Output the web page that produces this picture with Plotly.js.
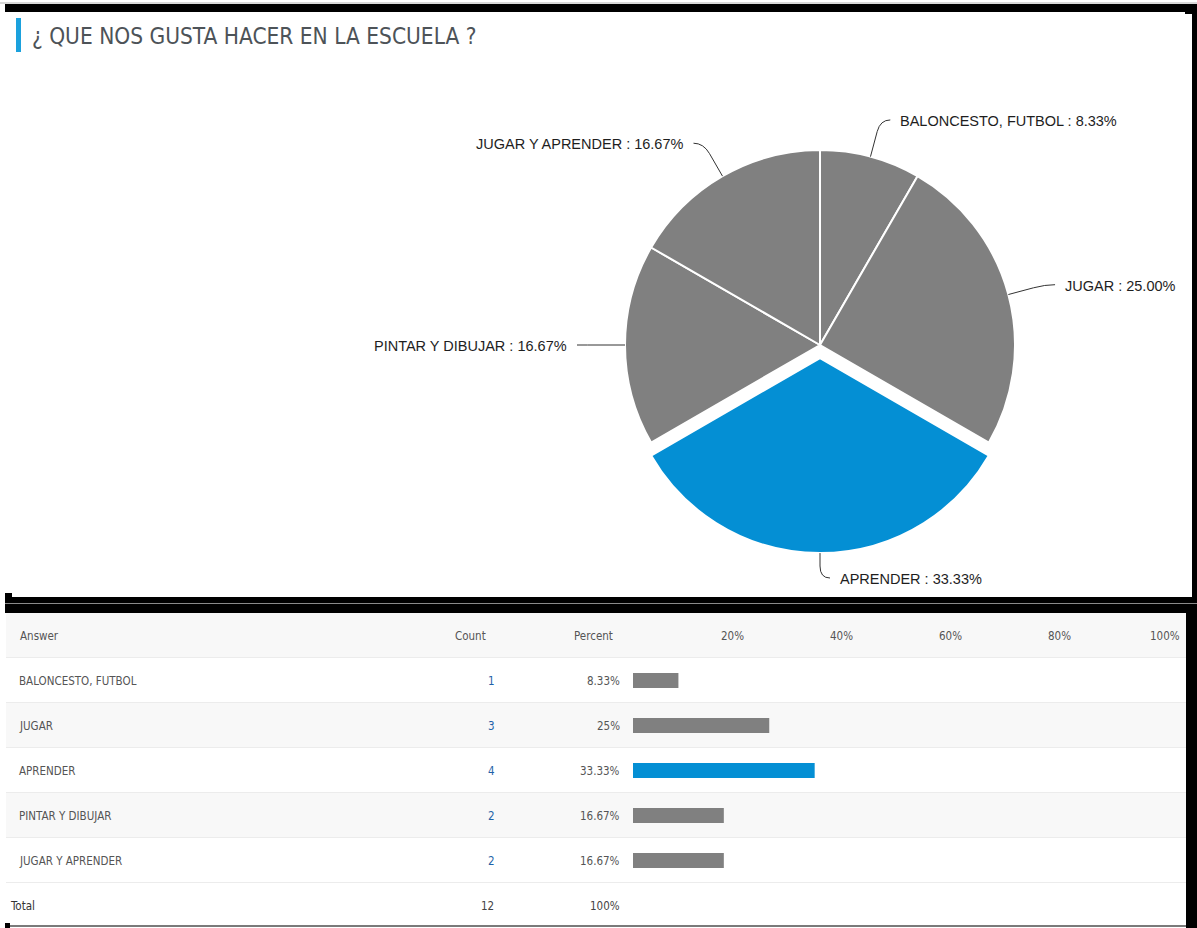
<!DOCTYPE html>
<html>
<head>
<meta charset="utf-8">
<script src="https://cdn.plot.ly/plotly-3.0.1.min.js"></script>
<style>html,body{margin:0;padding:0;background:#fff;}#chart{width:1197px;height:928px;}</style>
</head>
<body>
<div id="chart"></div>
<script>
// ---- data ----
const titleText = '¿ QUE NOS GUSTA HACER EN LA ESCUELA ?';
const answers = ['BALONCESTO, FUTBOL', 'JUGAR', 'APRENDER', 'PINTAR Y DIBUJAR', 'JUGAR Y APRENDER'];
const counts = [1, 3, 4, 2, 2];
const highlightIndex = 2;
const headerLabels = ['Answer', 'Count', 'Percent'];
const totalLabel = 'Total';
const scaleTicks = [20, 40, 60, 80, 100];

// ---- styling / geometry ----
const W = 1197, H = 928;
const px = x => x / W;
const py = y => 1 - y / H;
const GRAY = '#808080', BLUE = '#048fd4';
const CX = 820, CY = 345, R = 195, PULL = 0.067;
const pieFont = "'Liberation Sans', Arial, sans-serif";
const tblFont = "'Liberation Sans Narrow', 'DejaVu Sans Condensed', Roboto, sans-serif";

const total = counts.reduce((a, b) => a + b, 0);
const fracs = counts.map(c => c / total);
const colors = counts.map((c, i) => i === highlightIndex ? BLUE : GRAY);
const pulls = counts.map((c, i) => i === highlightIndex ? PULL : 0);

const pieTrace = {
  type: 'pie', values: counts, labels: answers, sort: false,
  direction: 'clockwise', rotation: 0, pull: pulls,
  marker: {colors: colors, line: {color: '#ffffff', width: 2}},
  textinfo: 'none', hoverinfo: 'none', showlegend: false,
  domain: {
    x: [px(CX - R * (1 + PULL)), px(CX + R * (1 + PULL))],
    y: [py(CY + R * (1 + PULL)), py(CY - R * (1 + PULL))]
  }
};

const pctVals = fracs.map(f => f * 100);
const rows = answers.map((a, i) => i + 1);
const barTrace = {
  type: 'bar', orientation: 'h', x: pctVals, y: rows, width: 0.33,
  marker: {color: colors}, hoverinfo: 'none', xaxis: 'x', yaxis: 'y', showlegend: false
};

const shapes = [];
const annotations = [];

// pie labels + connectors
let start = 0;
fracs.forEach((f, i) => {
  const mid = (start + f / 2) * 2 * Math.PI;
  start += f;
  const ux = Math.sin(mid), uy = -Math.cos(mid);
  const off = pulls[i] * R;
  const E = [CX + (R + off) * ux, CY + (R + off) * uy];
  const P = [CX + (R + 26) * ux, CY + (R + 26) * uy];
  const B = [CX + (R + 38) * ux, CY + (R + 38) * uy];
  const s = ux >= -1e-6 ? 1 : -1;
  const Hh = [B[0] + s * 10, B[1]];
  const path = `M ${px(E[0])},${py(E[1])} L ${px(P[0])},${py(P[1])} Q ${px(B[0])},${py(B[1])} ${px(Hh[0])},${py(Hh[1])}`;
  shapes.push({type: 'path', xref: 'paper', yref: 'paper', path: path, line: {color: '#333333', width: 1}});
  annotations.push({
    xref: 'paper', yref: 'paper', x: px(Hh[0] + s * 8), y: py(B[1] + 1),
    xanchor: s > 0 ? 'left' : 'right', yanchor: 'middle', showarrow: false,
    text: `${answers[i]} : ${(f * 100).toFixed(2)}%`,
    font: {family: pieFont, size: 14.5, color: '#1e1e1e'}
  });
});

// title
annotations.push({xref: 'paper', yref: 'paper', x: px(30), y: py(36), xanchor: 'left', yanchor: 'middle',
  showarrow: false, text: titleText, font: {family: tblFont, size: 22.5, color: '#4d5358'}});
shapes.push({type: 'rect', xref: 'paper', yref: 'paper', x0: px(16), x1: px(21), y0: py(52), y1: py(18),
  fillcolor: '#1ba1dd', line: {width: 0}});

// table rows
const nRows = answers.length + 2;
for (let r = 0; r < nRows; r++) {
  const bg = (r === 0 || (r > 0 && r <= answers.length && r % 2 === 0)) ? '#f8f8f8' : '#ffffff';
  shapes.push({type: 'rect', xref: 'paper', yref: 'y', x0: px(6), x1: px(1186), y0: r - 0.5, y1: r + 0.5,
    fillcolor: bg, line: {width: 0}, layer: 'below'});
  if (r < nRows - 1) {
    shapes.push({type: 'line', xref: 'paper', yref: 'y', x0: px(6), x1: px(1186), y0: r + 0.5, y1: r + 0.5,
      line: {color: '#ececec', width: 2}, layer: 'below'});
  }
}
const tf = (size, color) => ({family: tblFont, size: size, color: color});
const FS = 11.5;
annotations.push({xref: 'paper', yref: 'y', x: px(18), y: 0, xanchor: 'left', yanchor: 'middle', showarrow: false, text: headerLabels[0], font: tf(FS, '#555')});
annotations.push({xref: 'paper', yref: 'y', x: px(488), y: 0, xanchor: 'right', yanchor: 'middle', showarrow: false, text: headerLabels[1], font: tf(FS, '#555')});
annotations.push({xref: 'paper', yref: 'y', x: px(572), y: 0, xanchor: 'left', yanchor: 'middle', showarrow: false, text: headerLabels[2], font: tf(FS, '#555')});
scaleTicks.forEach(t => annotations.push({xref: 'x', yref: 'y', x: t, y: 0, xanchor: 'right', yanchor: 'middle', xshift: 4,
  showarrow: false, text: t + '%', font: tf(FS, '#555')}));
answers.forEach((a, i) => {
  const r = i + 1;
  annotations.push({xref: 'paper', yref: 'y', x: px(17), y: r, xanchor: 'left', yanchor: 'middle', showarrow: false, text: a, font: tf(FS, '#555')});
  annotations.push({xref: 'paper', yref: 'y', x: px(497), y: r, xanchor: 'right', yanchor: 'middle', showarrow: false, text: String(counts[i]), font: tf(FS, '#1f62a8')});
  annotations.push({xref: 'paper', yref: 'y', x: px(622), y: r, xanchor: 'right', yanchor: 'middle', showarrow: false, text: parseFloat((fracs[i] * 100).toFixed(2)) + '%', font: tf(FS, '#555')});
});
annotations.push({xref: 'paper', yref: 'y', x: px(8), y: nRows - 1, xanchor: 'left', yanchor: 'middle', showarrow: false, text: totalLabel, font: tf(FS, '#333')});
annotations.push({xref: 'paper', yref: 'y', x: px(496), y: nRows - 1, xanchor: 'right', yanchor: 'middle', showarrow: false, text: String(total), font: tf(FS, '#444')});
annotations.push({xref: 'paper', yref: 'y', x: px(622), y: nRows - 1, xanchor: 'right', yanchor: 'middle', showarrow: false, text: '100%', font: tf(FS, '#444')});

// frame (black borders of the screenshot)
const blk = (x0, y0, x1, y1, c) => shapes.push({type: 'rect', xref: 'paper', yref: 'paper',
  x0: px(x0), x1: px(x1), y0: py(y1), y1: py(y0), fillcolor: c || '#000', line: {width: 0}});
blk(0, 2, 1197, 4, '#d8d8d8');
blk(5, 4, 1197, 12);
blk(1192, 4, 1197, 598);
blk(1185, 4, 1197, 14);
blk(5, 597, 1197, 613);
blk(5, 603, 1197, 604, '#8a8a8a');
blk(5, 593, 12, 597);
blk(1186, 613, 1197, 928);
blk(5, 925, 1186, 927, '#7a7a7a');
blk(5, 923, 10, 928);

const layout = {
  width: W, height: H, margin: {l: 0, r: 0, t: 0, b: 0},
  paper_bgcolor: '#ffffff', plot_bgcolor: 'rgba(0,0,0,0)', showlegend: false,
  xaxis: {domain: [px(633), px(1178)], range: [0, 100], visible: false, fixedrange: true},
  yaxis: {domain: [py(928), py(613)], range: [nRows - 0.5, -0.5], visible: false, fixedrange: true},
  shapes: shapes, annotations: annotations
};
Plotly.newPlot('chart', [barTrace, pieTrace], layout, {displayModeBar: false, staticPlot: true});
</script>
</body>
</html>
